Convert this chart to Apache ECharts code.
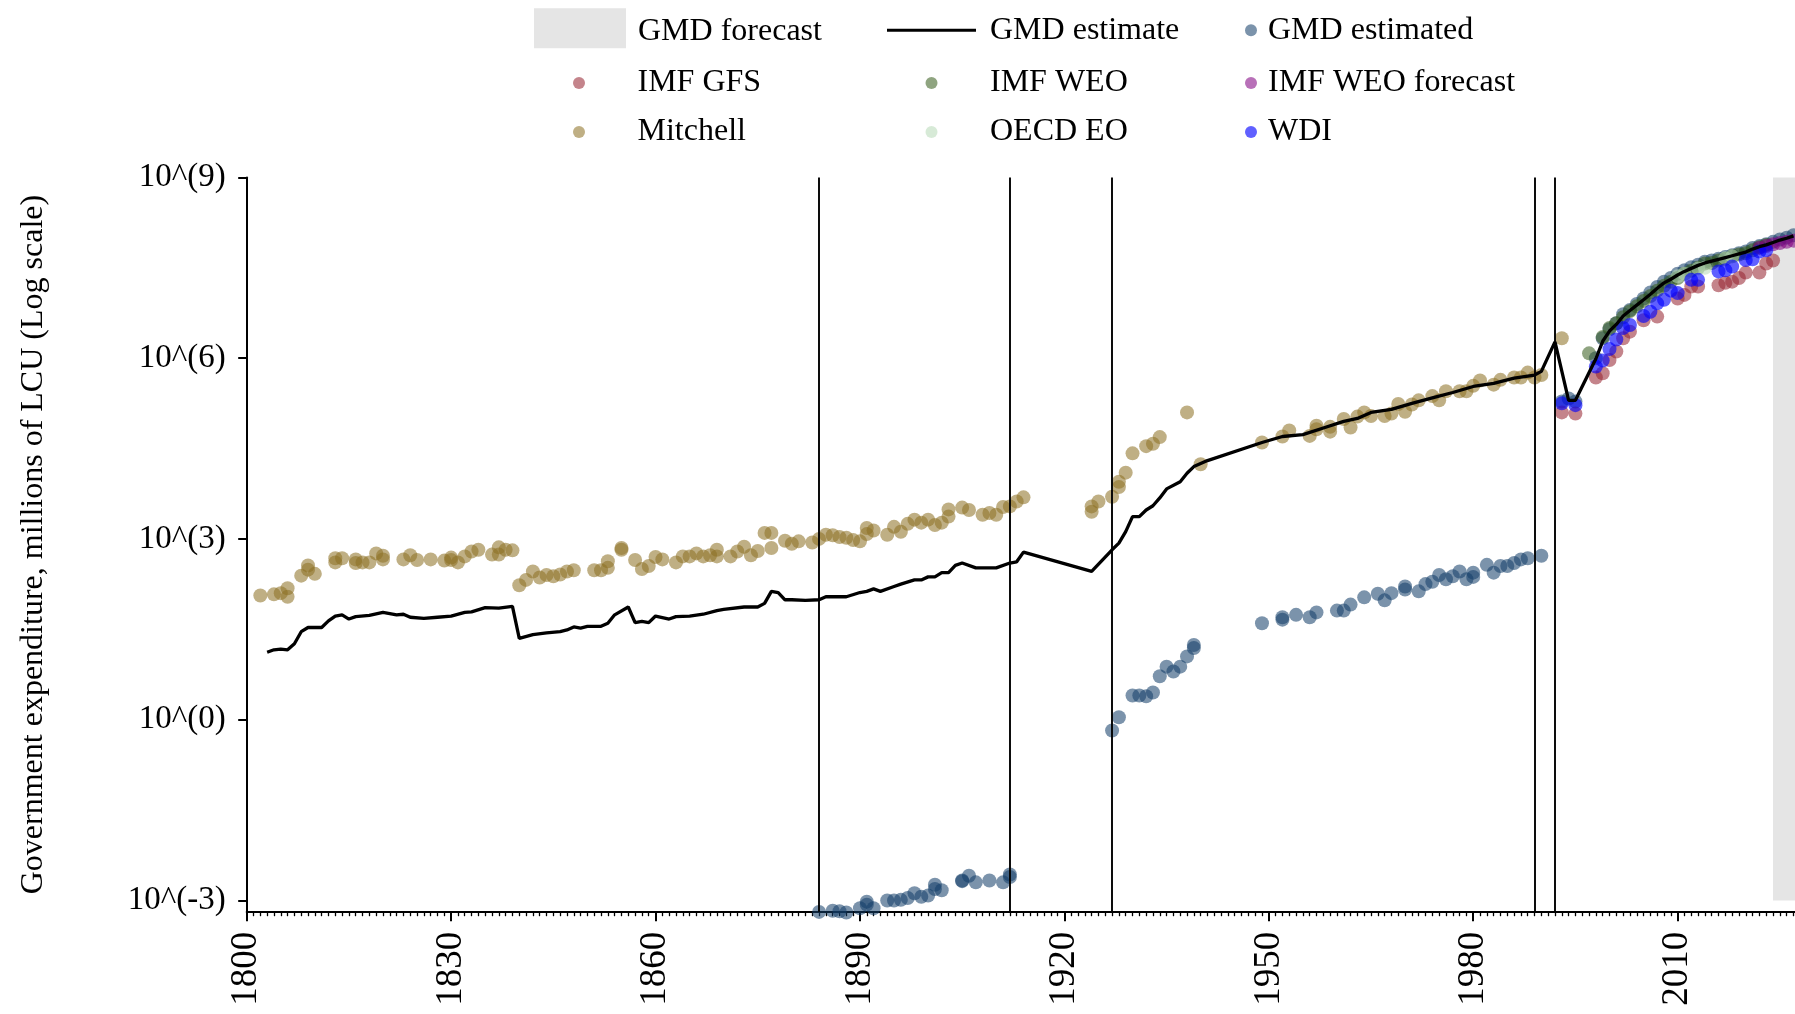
<!DOCTYPE html>
<html>
<head>
<meta charset="utf-8">
<script src="https://cdn.jsdelivr.net/npm/echarts@6.0.0/dist/echarts.min.js"></script>
<style>
html,body{margin:0;padding:0;background:#fff;}
#chart{width:1795px;height:1014px;}
</style>
</head>
<body>
<div id="chart"></div>
<script>
// ---------- DATA (values stored as log10 of millions of LCU) ----------
const yTickLog10 = [-3, 0, 3, 6, 9];
const xMin = 1800, xMax = 2030, xInterval = 30;
const yMinLog10 = -3.187, yMaxLog10 = 9;
const currencyBreakYears = [1884, 1912, 1927, 1989, 1992];
const forecastStart = 2024, forecastEnd = 2030;

const gmdEstimate = [
[1803,1.12],[1804,1.16],[1805,1.17],[1806,1.16],[1807,1.26],[1808,1.46],[1809,1.53],[1811,1.53],[1812,1.64],[1813,1.72],
[1814,1.74],[1815,1.67],[1816,1.71],[1818,1.73],[1820,1.78],[1822,1.74],[1823,1.75],[1824,1.70],[1826,1.68],[1828,1.70],
[1830,1.72],[1832,1.78],[1833,1.79],[1835,1.86],[1837,1.85],[1839,1.88],[1840,1.35],[1842,1.41],[1844,1.44],[1846,1.46],
[1847,1.49],[1848,1.54],[1849,1.52],[1850,1.55],[1852,1.55],[1853,1.60],[1854,1.74],[1856,1.87],[1857,1.61],[1858,1.63],
[1859,1.61],[1860,1.72],[1862,1.67],[1863,1.71],[1865,1.72],[1867,1.75],[1869,1.81],[1870,1.83],[1873,1.87],[1875,1.87],
[1876,1.93],[1877,2.13],[1878,2.11],[1879,1.99],[1880,1.99],[1882,1.98],[1884,1.99],[1885,2.04],[1888,2.04],[1890,2.11],
[1891,2.13],[1892,2.17],[1893,2.13],[1895,2.21],[1896,2.25],[1898,2.32],[1899,2.32],[1900,2.37],[1901,2.37],[1902,2.44],
[1903,2.44],[1904,2.56],[1905,2.60],[1907,2.52],[1908,2.52],[1910,2.52],[1912,2.60],[1913,2.62],[1914,2.78],[1924,2.46],
[1927,2.82],[1928,2.93],[1929,3.12],[1930,3.37],[1931,3.37],[1932,3.48],[1933,3.55],[1934,3.68],[1935,3.83],[1937,3.95],
[1938,4.09],[1939,4.20],[1941,4.30],[1949,4.60],[1952,4.70],[1955,4.73],[1958,4.84],[1961,4.95],[1963,5.00],[1965,5.10],
[1968,5.15],[1971,5.25],[1974,5.34],[1977,5.43],[1980,5.53],[1983,5.58],[1986,5.67],[1989,5.72],[1990,5.78],[1992,6.27],
[1994,5.30],[1995,5.30],[1998,5.99],[1999,6.28],[2000,6.45],[2001,6.56],[2002,6.70],[2003,6.79],[2004,6.88],[2005,6.97],
[2006,7.06],[2007,7.16],[2008,7.25],[2009,7.31],[2010,7.38],[2011,7.44],[2012,7.49],[2013,7.54],[2014,7.58],[2015,7.61],
[2016,7.64],[2017,7.67],[2018,7.70],[2019,7.73],[2020,7.76],[2021,7.81],[2022,7.85],[2023,7.88],[2024,7.92],[2025,7.96],
[2026,7.99],[2027,8.03]
];

const gmdEstimated = [
[1884,-3.19],[1886,-3.17],[1887,-3.18],[1888,-3.20],[1890,-3.13],[1891,-3.02],[1891,-3.07],[1892,-3.13],[1894,-3.00],[1895,-3.00],
[1896,-2.99],[1897,-2.96],[1898,-2.88],[1899,-2.94],[1900,-2.92],[1901,-2.81],[1901,-2.74],[1902,-2.83],[1905,-2.67],[1905,-2.68],
[1906,-2.59],[1907,-2.70],[1909,-2.67],[1911,-2.70],[1912,-2.61],[1912,-2.57],
[1927,-0.18],[1928,0.04],[1930,0.40],[1931,0.40],[1932,0.39],[1933,0.45],[1934,0.72],[1935,0.88],[1936,0.80],[1937,0.88],
[1938,1.05],[1939,1.24],[1939,1.19],
[1949,1.60],[1952,1.66],[1952,1.70],[1954,1.74],[1956,1.70],[1957,1.78],[1960,1.81],[1961,1.81],[1962,1.91],[1964,2.03],
[1966,2.09],[1967,1.98],[1968,2.10],[1970,2.16],[1970,2.21],[1972,2.13],[1973,2.25],[1974,2.29],[1975,2.40],[1976,2.33],
[1977,2.38],[1978,2.46],[1979,2.33],[1980,2.44],[1980,2.37],[1982,2.57],[1983,2.44],[1984,2.55],[1985,2.55],[1986,2.60],
[1987,2.66],[1988,2.68],[1990,2.72],
[1993,5.28],[1994,5.33],[1995,5.28],[1998,6.00],[1999,6.33],[2000,6.48],[2001,6.58],[2002,6.73],[2003,6.80],[2004,6.90],
[2005,6.99],[2006,7.09],[2007,7.18],[2008,7.27],[2009,7.33],[2010,7.40],[2011,7.46],[2012,7.51],[2013,7.55],[2014,7.60],
[2015,7.62],[2016,7.65],[2017,7.68],[2018,7.71],[2019,7.74],[2020,7.77],[2021,7.83],[2022,7.86],[2023,7.89],[2024,7.93],
[2025,7.97],[2026,8.00],[2027,8.04]
];

const imfGfs = [
[1993,5.10],[1995,5.08],[1998,5.68],[1999,5.75],[2000,5.97],[2001,6.11],[2002,6.33],[2003,6.44],[2005,6.63],[2007,6.69],
[2010,6.99],[2011,7.05],[2012,7.19],[2013,7.19],[2016,7.21],[2017,7.25],[2018,7.27],[2019,7.33],[2020,7.42],[2022,7.42],
[2023,7.57],[2024,7.62]
];

const imfWeo = [
[1997,6.08],[1999,6.35],[2000,6.50],[2001,6.58],[2002,6.68],[2003,6.78],[2004,6.86],[2005,6.95],[2006,7.03],[2007,7.12],
[2008,7.20],[2009,7.27],[2010,7.33],[2011,7.40],[2012,7.45],[2013,7.50],[2014,7.57],[2015,7.58],[2016,7.62],[2017,7.65],
[2018,7.69],[2019,7.72],[2020,7.74],[2021,7.79],[2022,7.84],[2023,7.88]
];

const imfWeoForecast = [
[2022,7.83],[2023,7.86],[2024,7.89],[2025,7.91],[2026,7.93],[2027,7.95]
];

const mitchell = [
[1802,2.06],[1804,2.08],[1805,2.10],[1806,2.04],[1806,2.18],[1808,2.39],[1809,2.56],[1809,2.49],[1810,2.42],[1813,2.61],
[1813,2.68],[1814,2.68],[1816,2.60],[1816,2.66],[1817,2.61],[1818,2.61],[1819,2.76],[1820,2.72],[1820,2.66],[1823,2.66],
[1824,2.73],[1825,2.65],[1827,2.66],[1829,2.64],[1830,2.69],[1830,2.65],[1831,2.61],[1832,2.71],[1833,2.79],[1834,2.82],
[1836,2.74],[1837,2.74],[1837,2.86],[1838,2.82],[1839,2.81],
[1840,2.23],[1841,2.32],[1842,2.46],[1843,2.36],[1844,2.40],[1845,2.38],[1846,2.41],[1847,2.46],[1848,2.48],[1851,2.48],
[1852,2.48],[1853,2.52],[1853,2.63],[1855,2.85],[1855,2.82],[1857,2.65],[1858,2.50],[1859,2.55],[1860,2.70],[1861,2.66],
[1863,2.61],[1864,2.71],[1865,2.71],[1866,2.76],[1867,2.71],[1868,2.73],[1869,2.71],[1869,2.82],[1871,2.71],[1872,2.79],
[1873,2.87],[1874,2.73],[1875,2.80],[1876,3.10],[1877,2.85],[1877,3.10],[1879,2.97],[1880,2.92],[1881,2.96],[1883,2.94],
[1884,3.00],[1885,3.07],[1886,3.06],[1887,3.03],[1888,3.02],[1889,2.98],[1890,2.96],[1891,3.18],[1891,3.08],[1892,3.14],
[1894,3.07],[1895,3.20],[1896,3.12],[1897,3.25],[1898,3.32],[1899,3.27],[1900,3.32],[1901,3.23],[1902,3.27],[1903,3.49],
[1903,3.37],[1905,3.52],[1906,3.48],[1908,3.40],[1909,3.43],[1910,3.40],[1911,3.53],[1912,3.54],[1913,3.62],[1914,3.69],
[1924,3.45],[1924,3.54],[1925,3.62],[1927,3.70],[1928,3.95],[1928,3.86],[1929,4.10],[1930,4.42],[1932,4.54],[1933,4.58],
[1934,4.69],[1938,5.10],[1940,4.24],
[1949,4.60],[1952,4.70],[1953,4.80],[1956,4.71],[1957,4.82],[1957,4.88],[1959,4.86],[1959,4.78],[1961,4.99],[1962,4.85],
[1963,5.03],[1964,5.10],[1965,5.04],[1967,5.04],[1968,5.08],[1969,5.24],[1970,5.11],[1971,5.23],[1972,5.30],[1974,5.37],
[1975,5.30],[1976,5.45],[1978,5.45],[1979,5.45],[1980,5.54],[1981,5.63],[1983,5.56],[1984,5.64],[1986,5.68],[1987,5.68],
[1988,5.76],[1989,5.68],[1990,5.72],[1993,6.33]
];

const oecdEo = [
[2010,7.36],[2011,7.40],[2013,7.49],[2014,7.50],[2017,7.66],[2018,7.69]
];

const wdi = [
[1993,5.25],[1995,5.22],[1998,5.86],[1999,5.96],[2000,6.15],[2001,6.31],[2002,6.50],[2003,6.55],[2005,6.70],[2006,6.77],
[2007,6.91],[2008,6.97],[2009,7.12],[2010,7.08],[2012,7.30],[2013,7.30],[2016,7.44],[2017,7.46],[2018,7.52],[2020,7.63],
[2021,7.64],[2022,7.77],[2023,7.79]
];

// ---------- CHART ----------
const SERIF = "'Liberation Serif', 'Times New Roman', Times, serif";
const toPts = arr => arr.map(([yr, lg]) => [yr, Math.pow(10, lg)]);

const colors = {
  'GMD estimated': 'rgba(20,62,105,0.7)',
  'IMF GFS': 'rgba(150,36,48,0.7)',
  'IMF WEO': 'rgba(55,92,28,0.7)',
  'IMF WEO forecast': 'rgba(128,0,128,0.7)',
  'Mitchell': 'rgba(140,112,35,0.7)',
  'OECD EO': 'rgba(184,218,184,0.7)',
  'WDI': 'rgba(0,0,255,0.78)'
};

function scatter(name, arr) {
  return {
    name, type: 'scatter', data: toPts(arr), symbol: 'circle', symbolSize: 14,
    clip: false, itemStyle: { color: colors[name] }, animation: false,
    emphasis: { disabled: true }
  };
}

const LFS = 32;
const legendText = { fontFamily: SERIF, fontSize: LFS, color: '#000' };
function leg(data, left, top, w, h, extra) {
  return Object.assign({
    data, left, top, itemWidth: w, itemHeight: h, padding: 0, selectedMode: false,
    symbolKeepAspect: true,
    textStyle: Object.assign({}, legendText)
  }, extra || {});
}
// row centres (px) of the legend keys
const r1 = 28.3, r2 = 81, r3 = 130, off = 14;

const option = {
  backgroundColor: '#fff',
  animation: false,
  legend: [
    leg([{ name: 'GMD forecast', icon: 'rect', itemStyle: { color: '#e5e5e5' } }], 534, 8.3, 92, 40, {
      formatter: n => '{t|' + n + '}',
      textStyle: Object.assign({}, legendText, {
        rich: { t: { fontFamily: SERIF, fontSize: LFS, color: '#000', padding: [7, 0, 0, 7] } }
      })
    }),
    leg([{ name: 'GMD estimate', icon: 'rect', itemStyle: { color: '#000' } }], 887, r1 - off, 89, 3, {
      textStyle: Object.assign({}, legendText, { padding: [0, 0, 0, 9] })
    }),
    leg([{ name: 'GMD estimated', icon: 'circle' }], 1245, r1 - off, 24, 12),
    leg([{ name: 'IMF GFS', icon: 'circle' }], 573, r2 - off, 107, 12),
    leg([{ name: 'IMF WEO', icon: 'circle' }], 925.5, r2 - off, 107, 12),
    leg([{ name: 'IMF WEO forecast', icon: 'circle' }], 1245, r2 - off, 24, 12),
    leg([{ name: 'Mitchell', icon: 'circle' }], 573, r3 - off, 107, 12),
    leg([{ name: 'OECD EO', icon: 'circle' }], 925.5, r3 - off, 107, 12),
    leg([{ name: 'WDI', icon: 'circle' }], 1245, r3 - off, 24, 12)
  ],
  grid: { left: 246.7, top: 177.4, width: (xMax - xMin) * 6.814, height: 734.3,
          outerBoundsMode: 'none', containLabel: false },
  xAxis: {
    type: 'value', min: xMin, max: xMax, interval: xInterval,
    axisLine: { onZero: false, lineStyle: { color: '#000', width: 2 } },
    axisTick: { show: true, length: 9.5, lineStyle: { color: '#000', width: 2 } },
    minorTick: { show: true, splitNumber: 30, length: 4.5, lineStyle: { color: '#000', width: 1.3 } },
    splitLine: { show: false },
    axisLabel: { rotate: 90, margin: 20, fontFamily: SERIF, fontSize: 37, color: '#000',
                 formatter: v => String(v) }
  },
  yAxis: {
    type: 'log', logBase: 10,
    min: Math.pow(10, yMinLog10), max: Math.pow(10, yMaxLog10),
    name: 'Government expenditure, millions of LCU (Log scale)',
    nameLocation: 'middle', nameRotate: 90, nameGap: 197,
    nameTextStyle: { fontFamily: SERIF, fontSize: 32, color: '#000' },
    axisLine: { show: true, lineStyle: { color: '#000', width: 2 } },
    axisTick: { show: true, length: 8.5, lineStyle: { color: '#000', width: 2 },
                customValues: yTickLog10.map(e => Math.pow(10, e)) },
    splitLine: { show: false },
    minorTick: { show: false },
    axisLabel: { margin: 21, fontFamily: SERIF, fontSize: 33, color: '#000',
                 customValues: yTickLog10.map(e => Math.pow(10, e)),
                 formatter: v => '10^(' + Math.round(Math.log10(v)) + ')' }
  },
  series: [
    {
      name: 'GMD forecast', type: 'line', data: [], silent: true,
      itemStyle: { color: '#e5e5e5' },
      markArea: {
        silent: true, itemStyle: { color: '#e5e5e5' },
        data: [[{ xAxis: forecastStart, yAxis: Math.pow(10, -3) }, { xAxis: forecastEnd, yAxis: Math.pow(10, 9) }]]
      }
    },
    {
      name: 'GMD estimate', type: 'line', data: toPts(gmdEstimate),
      symbol: 'none', showSymbol: false, silent: true,
      itemStyle: { color: '#000' },
      lineStyle: { color: '#000', width: 3.3 },
      markLine: {
        silent: true, symbol: ['none', 'none'], label: { show: false },
        lineStyle: { color: '#000', width: 1.9, type: 'solid' },
        data: currencyBreakYears.map(y => ({ xAxis: y }))
      }
    },
    scatter('GMD estimated', gmdEstimated),
    scatter('IMF GFS', imfGfs),
    scatter('IMF WEO', imfWeo),
    scatter('IMF WEO forecast', imfWeoForecast),
    scatter('Mitchell', mitchell),
    scatter('OECD EO', oecdEo),
    scatter('WDI', wdi)
  ]
};

const chart = echarts.init(document.getElementById('chart'), null, { renderer: 'canvas' });
chart.setOption(option);
</script>
</body>
</html>
